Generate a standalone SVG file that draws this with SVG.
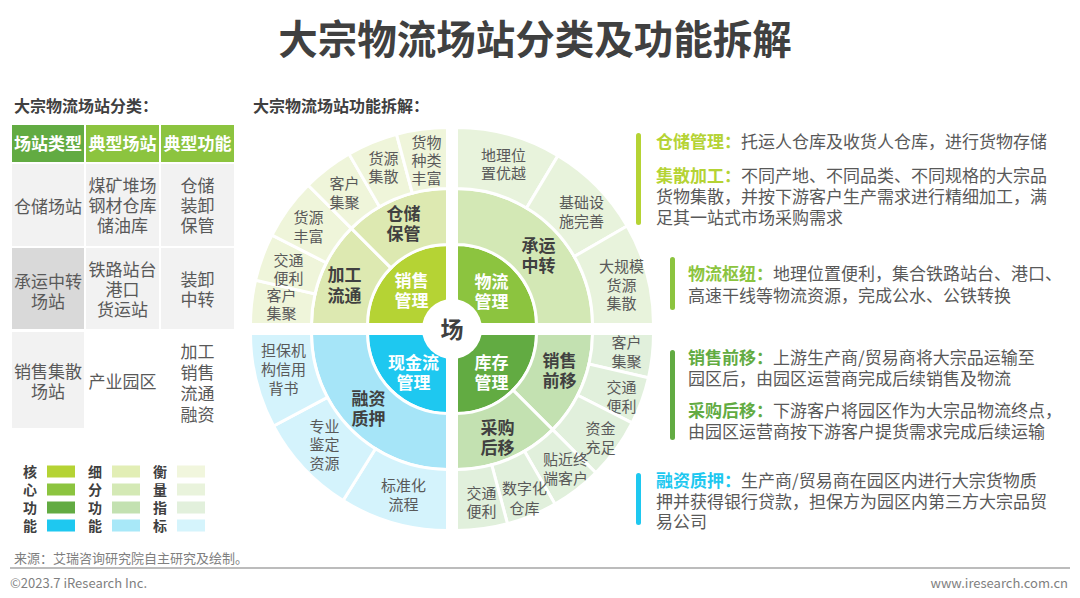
<svg xmlns="http://www.w3.org/2000/svg" width="1080" height="598" viewBox="0 0 1080 598">
<style>
text{font-family:"Noto Sans CJK SC","Noto Sans",sans-serif}
.title{font-size:39.5px;font-weight:bold;fill:#404040;text-anchor:middle}
.h2{font-size:16px;font-weight:bold;fill:#404040}
.th{font-size:17px;font-weight:bold;fill:#fff;text-anchor:middle}
.td{font-size:17px;fill:#595959;text-anchor:middle}
.lg{font-size:14px;font-weight:bold;fill:#404040;text-anchor:middle}
.o{font-size:15px;fill:#595959;text-anchor:middle}
.m{font-size:17px;font-weight:bold;fill:#404040;text-anchor:middle}
.cw{font-size:17px;font-weight:bold;fill:#fff;text-anchor:middle}
.sec{stroke:#fff;stroke-width:3;stroke-linejoin:miter}
.rt{font-size:17px;fill:#595959}
.lb{font-weight:bold}
.foot{font-size:13px;fill:#7f7f7f}
</style>

<text class="title" x="535" y="54">大宗物流场站分类及功能拆解</text>
<text class="h2" x="14" y="112">大宗物流场站分类：</text>
<text class="h2" x="253" y="112">大宗物流场站功能拆解：</text>

<!-- Table -->
<g id="table">
  <rect x="12" y="125" width="72" height="37" fill="#62ab42"/>
  <rect x="86" y="125" width="73" height="37" fill="#8cc43f"/>
  <rect x="161" y="125" width="73" height="37" fill="#8cc43f"/>
  <text class="th" x="48" y="150">场站类型</text>
  <text class="th" x="122.5" y="150">典型场站</text>
  <text class="th" x="197.5" y="150">典型功能</text>

  <rect x="12" y="164" width="72" height="82" fill="#f2f2f2"/>
  <rect x="86" y="164" width="73" height="82" fill="#f2f2f2"/>
  <rect x="161" y="164" width="73" height="82" fill="#f2f2f2"/>
  <text class="td" x="48" y="212.5">仓储场站</text>
  <text class="td" x="122.5" y="191.5">煤矿堆场<tspan x="122.5" dy="20">钢材仓库</tspan><tspan x="122.5" dy="20">储油库</tspan></text>
  <text class="td" x="197.5" y="191.5">仓储<tspan x="197.5" dy="20">装卸</tspan><tspan x="197.5" dy="20">保管</tspan></text>

  <rect x="12" y="248" width="72" height="81" fill="#d9d9d9"/>
  <rect x="86" y="248" width="73" height="81" fill="#f2f2f2"/>
  <rect x="161" y="248" width="73" height="81" fill="#f2f2f2"/>
  <text class="td" x="48" y="287.5">承运中转<tspan x="48" dy="20">场站</tspan></text>
  <text class="td" x="122.5" y="276">铁路站台<tspan x="122.5" dy="20">港口</tspan><tspan x="122.5" dy="20">货运站</tspan></text>
  <text class="td" x="197.5" y="285.5">装卸<tspan x="197.5" dy="20">中转</tspan></text>

  <rect x="12" y="332" width="72" height="96" fill="#f2f2f2"/>
  <text class="td" x="48" y="378">销售集散<tspan x="48" dy="20">场站</tspan></text>
  <text class="td" x="122.5" y="388">产业园区</text>
  <text class="td" x="197.5" y="357.5">加工<tspan x="197.5" dy="21">销售</tspan><tspan x="197.5" dy="21">流通</tspan><tspan x="197.5" dy="21">融资</tspan></text>
</g>

<!-- Legend -->
<g id="legend">
  <text class="lg" x="30" y="477">核<tspan x="30" dy="18">心</tspan><tspan x="30" dy="18">功</tspan><tspan x="30" dy="18">能</tspan></text>
  <rect x="47" y="465.5" width="28" height="12" fill="#b5d334"/>
  <rect x="47" y="483.5" width="28" height="12" fill="#8cc43f"/>
  <rect x="47" y="501.5" width="28" height="12" fill="#62ab42"/>
  <rect x="47" y="519.5" width="28" height="12" fill="#1ec8f0"/>
  <text class="lg" x="95" y="477">细<tspan x="95" dy="18">分</tspan><tspan x="95" dy="18">功</tspan><tspan x="95" dy="18">能</tspan></text>
  <rect x="112" y="465.5" width="28" height="12" fill="#e2eeb5"/>
  <rect x="112" y="483.5" width="28" height="12" fill="#d4e9b5"/>
  <rect x="112" y="501.5" width="28" height="12" fill="#c3e1b1"/>
  <rect x="112" y="519.5" width="28" height="12" fill="#a8e8f8"/>
  <text class="lg" x="160" y="477">衡<tspan x="160" dy="18">量</tspan><tspan x="160" dy="18">指</tspan><tspan x="160" dy="18">标</tspan></text>
  <rect x="177" y="465.5" width="28" height="12" fill="#f1f6dd"/>
  <rect x="177" y="483.5" width="28" height="12" fill="#e9f3dc"/>
  <rect x="177" y="501.5" width="28" height="12" fill="#e2f0dc"/>
  <rect x="177" y="519.5" width="28" height="12" fill="#d5f4fc"/>
</g>

<!-- Wheel: top-left quadrant (销售管理) -->
<g id="q-tl" transform="translate(1.5,1.5)">
  <g id="tl-core"><path class="sec" fill="#b5d334" d="M446,323 L366,323 A80,80 0 0 1 446,243 Z"/>
    <text class="cw" x="410" y="285">销售<tspan x="410" dy="20">管理</tspan></text></g>
  <g id="tl-m1"><path class="sec" fill="#dde9b1" d="M310,323 A136,136 0 0 1 349.83,226.83 L389.43,266.43 A80,80 0 0 0 366,323 Z"/>
    <text class="m" x="343" y="279">加工<tspan x="343" dy="21">流通</tspan></text></g>
  <g id="tl-m2"><path class="sec" fill="#dde9b1" d="M349.83,226.83 A136,136 0 0 1 446,187 L446,243 A80,80 0 0 0 389.43,266.43 Z"/>
    <text class="m" x="402" y="218">仓储<tspan x="402" dy="20">保管</tspan></text></g>
  <g id="tl-o1"><path class="sec" fill="#eff5da" d="M249,323 A197,197 0 0 1 254.05,278.68 L313.49,292.41 A136,136 0 0 0 310,323 Z"/>
    <text class="o" x="280" y="299">客户<tspan x="280" dy="18.5">集聚</tspan></text></g>
  <g id="tl-o2"><path class="sec" fill="#eff5da" d="M254.05,278.68 A197,197 0 0 1 270.47,233.56 L324.82,261.26 A136,136 0 0 0 313.49,292.41 Z"/>
    <text class="o" x="287" y="264">交通<tspan x="287" dy="18.5">便利</tspan></text></g>
  <g id="tl-o3"><path class="sec" fill="#eff5da" d="M270.47,233.56 A197,197 0 0 1 306.70,183.70 L349.83,226.83 A136,136 0 0 0 324.82,261.26 Z"/>
    <text class="o" x="307" y="221.5">货源<tspan x="307" dy="18.5">丰富</tspan></text></g>
  <g id="tl-o4"><path class="sec" fill="#eff5da" d="M306.70,183.70 A197,197 0 0 1 347.50,152.39 L378,205.22 A136,136 0 0 0 349.83,226.83 Z"/>
    <text class="o" x="343" y="187.5">客户<tspan x="343" dy="18.5">集聚</tspan></text></g>
  <g id="tl-o5"><path class="sec" fill="#eff5da" d="M347.50,152.39 A197,197 0 0 1 395.01,132.71 L410.80,191.63 A136,136 0 0 0 378,205.22 Z"/>
    <text class="o" x="382" y="162.5">货源<tspan x="382" dy="18">集散</tspan></text></g>
  <g id="tl-o6"><path class="sec" fill="#eff5da" d="M395.01,132.71 A197,197 0 0 1 446,126 L446,187 A136,136 0 0 0 410.80,191.63 Z"/>
    <text class="o" x="425" y="146">货物<tspan x="425" dy="18">种类</tspan><tspan x="425" dy="18">丰富</tspan></text></g>
</g>

<!-- Wheel: top-right quadrant (物流管理) -->
<g id="q-tr" transform="translate(-1.5,1.5)">
  <g id="tr-core"><path class="sec" fill="#8cc43f" d="M458,323 L458,243 A80,80 0 0 1 538,323 Z"/>
    <text class="cw" x="493" y="286.5">物流<tspan x="493" dy="19.5">管理</tspan></text></g>
  <g id="tr-m"><path class="sec" fill="#d3e8b5" d="M458,187 A136,136 0 0 1 594,323 L538,323 A80,80 0 0 0 458,243 Z"/>
    <text class="m" x="540" y="250">承运<tspan x="540" dy="20">中转</tspan></text></g>
  <g id="tr-o1"><path class="sec" fill="#e8f3dc" d="M458,126 A197,197 0 0 1 559.46,154.14 L528.05,206.42 A136,136 0 0 0 458,187 Z"/>
    <text class="o" x="505" y="159">地理位<tspan x="505" dy="18.5">置优越</tspan></text></g>
  <g id="tr-o2"><path class="sec" fill="#e8f3dc" d="M559.46,154.14 A197,197 0 0 1 628.61,224.5 L575.78,255 A136,136 0 0 0 528.05,206.42 Z"/>
    <text class="o" x="583" y="206.5">基础设<tspan x="583" dy="18.5">施完善</tspan></text></g>
  <g id="tr-o3"><path class="sec" fill="#e8f3dc" d="M628.61,224.5 A197,197 0 0 1 655,323 L594,323 A136,136 0 0 0 575.78,255 Z"/>
    <text class="o" x="623" y="270.5">大规模<tspan x="623" dy="18.5">货源</tspan><tspan x="623" dy="18.5">集散</tspan></text></g>
</g>

<!-- Wheel: bottom-right quadrant (库存管理) -->
<g id="q-br" transform="translate(-1.5,-1.5)">
  <g id="br-core"><path class="sec" fill="#62ab42" d="M458,335 L538,335 A80,80 0 0 1 458,415 Z"/>
    <text class="cw" x="493" y="370">库存<tspan x="493" dy="20.5">管理</tspan></text></g>
  <g id="br-m1"><path class="sec" fill="#c3e1b1" d="M594,335 A136,136 0 0 1 554.17,431.17 L514.57,391.57 A80,80 0 0 0 538,335 Z"/>
    <text class="m" x="561" y="368">销售<tspan x="561" dy="20">前移</tspan></text></g>
  <g id="br-m2"><path class="sec" fill="#c3e1b1" d="M554.17,431.17 A136,136 0 0 1 458,471 L458,415 A80,80 0 0 0 514.57,391.57 Z"/>
    <text class="m" x="499" y="435">采购<tspan x="499" dy="20">后移</tspan></text></g>
  <g id="br-o1"><path class="sec" fill="#e1f0dc" d="M655,335 A197,197 0 0 1 649.95,379.32 L590.51,365.59 A136,136 0 0 0 594,335 Z"/>
    <text class="o" x="628" y="349">客户<tspan x="628" dy="19">集聚</tspan></text></g>
  <g id="br-o2"><path class="sec" fill="#e1f0dc" d="M649.95,379.32 A197,197 0 0 1 633.53,424.44 L579.18,396.74 A136,136 0 0 0 590.51,365.59 Z"/>
    <text class="o" x="623" y="394">交通<tspan x="623" dy="19">便利</tspan></text></g>
  <g id="br-o3"><path class="sec" fill="#e1f0dc" d="M633.53,424.44 A197,197 0 0 1 597.30,474.30 L554.17,431.17 A136,136 0 0 0 579.18,396.74 Z"/>
    <text class="o" x="602" y="435.5">资金<tspan x="602" dy="18.5">充足</tspan></text></g>
  <g id="br-o4"><path class="sec" fill="#e1f0dc" d="M597.30,474.30 A197,197 0 0 1 556.5,505.61 L526,452.78 A136,136 0 0 0 554.17,431.17 Z"/>
    <text class="o" x="567" y="466.5">贴近终<tspan x="567" dy="18.5">端客户</tspan></text></g>
  <g id="br-o5"><path class="sec" fill="#e1f0dc" d="M556.5,505.61 A197,197 0 0 1 508.99,525.29 L493.20,466.37 A136,136 0 0 0 526,452.78 Z"/>
    <text class="o" x="526" y="495.5">数字化<tspan x="526" dy="19.5">仓库</tspan></text></g>
  <g id="br-o6"><path class="sec" fill="#e1f0dc" d="M508.99,525.29 A197,197 0 0 1 458,532 L458,471 A136,136 0 0 0 493.20,466.37 Z"/>
    <text class="o" x="483" y="500">交通<tspan x="483" dy="18.5">便利</tspan></text></g>
</g>

<!-- Wheel: bottom-left quadrant (现金流管理) -->
<g id="q-bl" transform="translate(1.5,-1.5)">
  <g id="bl-core"><path class="sec" fill="#1ec8f0" d="M446,335 L446,415 A80,80 0 0 1 366,335 Z"/>
    <text class="cw" x="412" y="370">现金流<tspan x="412" dy="20">管理</tspan></text></g>
  <g id="bl-m"><path class="sec" fill="#a6e5f8" d="M446,471 A136,136 0 0 1 310,335 L366,335 A80,80 0 0 0 446,415 Z"/>
    <text class="m" x="367" y="406.5">融资<tspan x="367" dy="20">质押</tspan></text></g>
  <g id="bl-o1"><path class="sec" fill="#d4f3fc" d="M446,532 A197,197 0 0 1 341.61,502.07 L373.93,450.33 A136,136 0 0 0 446,471 Z"/>
    <text class="o" x="402" y="492.5">标准化<tspan x="402" dy="18.5">流程</tspan></text></g>
  <g id="bl-o2"><path class="sec" fill="#d4f3fc" d="M341.61,502.07 A197,197 0 0 1 272.06,427.49 L325.92,398.85 A136,136 0 0 0 373.93,450.33 Z"/>
    <text class="o" x="323" y="433">专业<tspan x="323" dy="18.5">鉴定</tspan><tspan x="323" dy="18.5">资源</tspan></text></g>
  <g id="bl-o3"><path class="sec" fill="#d4f3fc" d="M272.06,427.49 A197,197 0 0 1 249,335 L310,335 A136,136 0 0 0 325.92,398.85 Z"/>
    <text class="o" x="282" y="357.5">担保机<tspan x="282" dy="19">构信用</tspan><tspan x="282" dy="18.5">背书</tspan></text></g>
</g>

<g id="center">
  <circle cx="452" cy="329" r="30" fill="#fff"/>
  <text x="452" y="338" style="font-size:23px;font-weight:bold;fill:#404040;text-anchor:middle">场</text>
</g>

<g id="connectors"></g>

<!-- Right descriptions -->
<g id="desc-1">
  <rect x="636" y="133" width="5" height="92" rx="2.5" fill="#b5d334"/>
  <text class="rt" x="656" y="148"><tspan class="lb" fill="#b5d334">仓储管理：</tspan>托运人仓库及收货人仓库，进行货物存储</text>
  <text class="rt" x="656" y="181.5"><tspan class="lb" fill="#b5d334">集散加工：</tspan>不同产地、不同品类、不同规格的大宗品<tspan x="656" dy="21">货物集散，并按下游客户生产需求进行精细加工，满</tspan><tspan x="656" dy="21">足其一站式市场采购需求</tspan></text>
</g>
<g id="desc-2">
  <rect x="670" y="257" width="5" height="53" rx="2.5" fill="#8cc43f"/>
  <text class="rt" x="688" y="280"><tspan class="lb" fill="#8cc43f">物流枢纽：</tspan>地理位置便利，集合铁路站台、港口、<tspan x="688" dy="21.5">高速干线等物流资源，完成公水、公铁转换</tspan></text>
</g>
<g id="desc-3">
  <rect x="670" y="350" width="5" height="90" rx="2.5" fill="#62ab42"/>
  <text class="rt" x="688" y="364"><tspan class="lb" fill="#62ab42">销售前移：</tspan>上游生产商/贸易商将大宗品运输至<tspan x="688" dy="21">园区后，由园区运营商完成后续销售及物流</tspan></text>
  <text class="rt" x="688" y="416.5"><tspan class="lb" fill="#62ab42">采购后移：</tspan>下游客户将园区作为大宗品物流终点，<tspan x="688" dy="21.5">由园区运营商按下游客户提货需求完成后续运输</tspan></text>
</g>
<g id="desc-4">
  <rect x="636" y="473" width="5" height="52" rx="2.5" fill="#1ec8f0"/>
  <text class="rt" x="656" y="486.5"><tspan class="lb" fill="#1ec8f0">融资质押：</tspan>生产商/贸易商在园区内进行大宗货物质<tspan x="656" dy="21">押并获得银行贷款，担保方为园区内第三方大宗品贸</tspan><tspan x="656" dy="20.5">易公司</tspan></text>
</g>

<!-- Footer -->
<text class="foot" x="14" y="562.5">来源：艾瑞咨询研究院自主研究及绘制。</text>
<line x1="10" y1="568" x2="1070" y2="568" stroke="#a6a6a6" stroke-width="1.5"/>
<text class="foot" x="10" y="588">©2023.7 iResearch Inc.</text>
<text class="foot" x="1068" y="588" text-anchor="end">www.iresearch.com.cn</text>
</svg>
